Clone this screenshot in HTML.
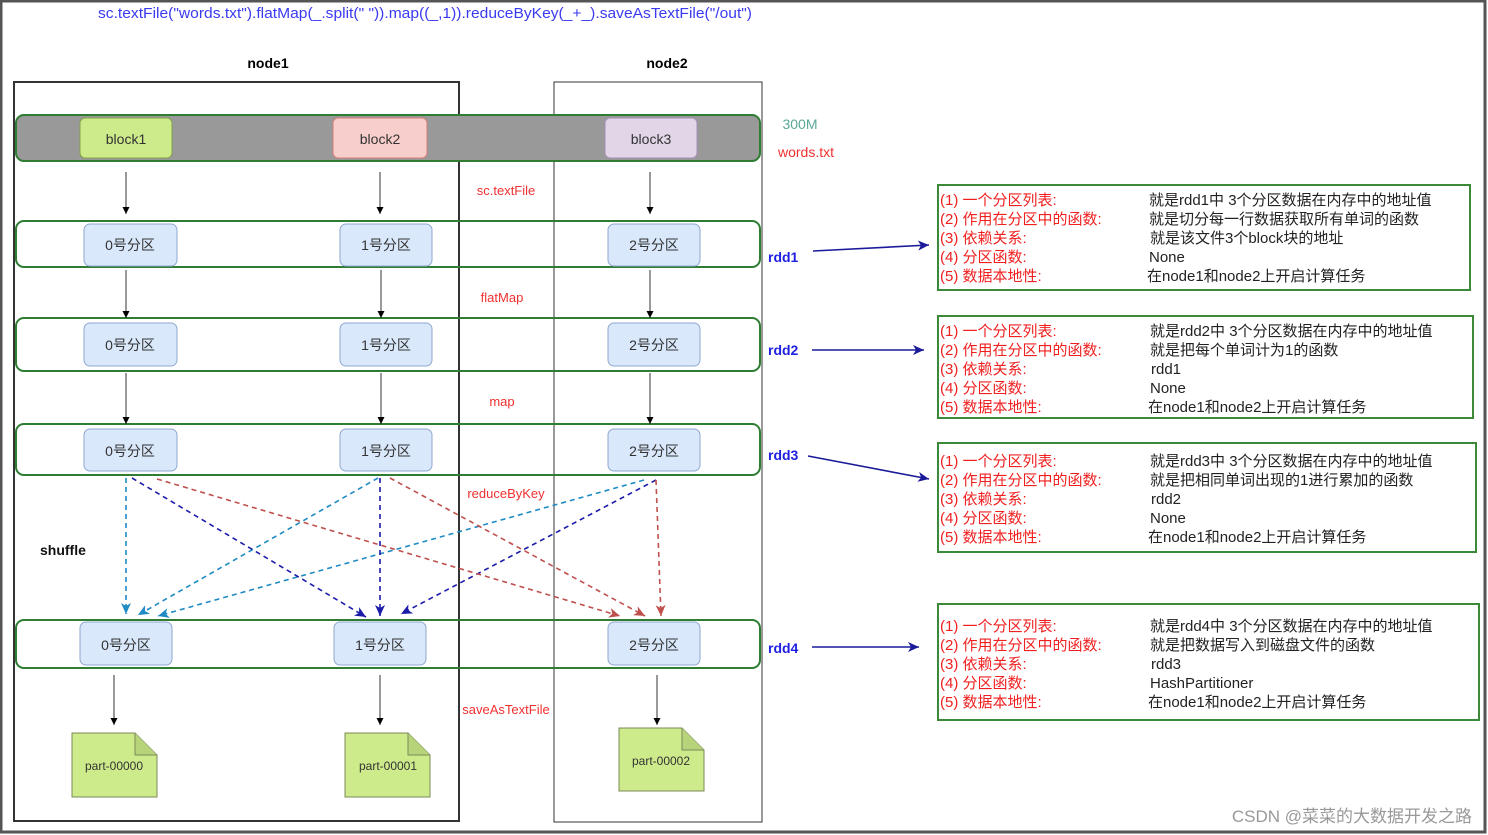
<!DOCTYPE html>
<html><head><meta charset="utf-8"><style>
html,body{margin:0;padding:0;background:#fff;}
svg{display:block;}
text{font-family:"Liberation Sans","Noto Sans CJK SC",sans-serif;}
</style></head><body>
<svg width="1488" height="835" viewBox="0 0 1488 835" xmlns="http://www.w3.org/2000/svg">
<defs>
<marker id="ak" markerWidth="8" markerHeight="8" refX="7" refY="4" orient="auto" markerUnits="userSpaceOnUse"><path d="M0,0.5 L7,4 L0,7.5 Z" fill="#000"/></marker>
<marker id="ab" markerWidth="12" markerHeight="10" refX="11" refY="5" orient="auto" markerUnits="userSpaceOnUse"><path d="M0,0 L11,5 L0,10 L3,5 Z" fill="#1a1a9a"/></marker>
<marker id="ac" markerWidth="12" markerHeight="10" refX="11" refY="5" orient="auto" markerUnits="userSpaceOnUse"><path d="M0,0 L11,5 L0,10 L3,5 Z" fill="#1f8ac4"/></marker>
<marker id="ad" markerWidth="12" markerHeight="10" refX="11" refY="5" orient="auto" markerUnits="userSpaceOnUse"><path d="M0,0 L11,5 L0,10 L3,5 Z" fill="#1c1caa"/></marker>
<marker id="ar" markerWidth="12" markerHeight="10" refX="11" refY="5" orient="auto" markerUnits="userSpaceOnUse"><path d="M0,0 L11,5 L0,10 L3,5 Z" fill="#c0504d"/></marker>
</defs>
<rect x="1" y="1" width="1484" height="831" fill="#fff" stroke="#555" stroke-width="3"/>
<text x="98" y="18" font-size="15" fill="#3a3af0" textLength="654" lengthAdjust="spacingAndGlyphs">sc.textFile("words.txt").flatMap(_.split(" ")).map((_,1)).reduceByKey(_+_).saveAsTextFile("/out")</text>
<text x="268" y="68" font-size="14" font-weight="bold" text-anchor="middle">node1</text>
<text x="667" y="68" font-size="14" font-weight="bold" text-anchor="middle">node2</text>
<rect x="14" y="82" width="445" height="739" fill="none" stroke="#333" stroke-width="2"/>
<rect x="554" y="82" width="208" height="740" fill="none" stroke="#333" stroke-width="1"/>
<rect x="16" y="115" width="744" height="46" rx="8" fill="#999" stroke="#2e7d32" stroke-width="2"/>
<rect x="80" y="118" width="92" height="40" rx="5" fill="#cdeb8b" stroke="#82a04a"/>
<rect x="333" y="118" width="94" height="40" rx="5" fill="#f8cecc" stroke="#d07d7a"/>
<rect x="605" y="118" width="92" height="40" rx="5" fill="#e1d5e7" stroke="#a58fb5"/>
<g font-size="14" fill="#333" text-anchor="middle">
<text x="126" y="144">block1</text><text x="380" y="144">block2</text><text x="651" y="144">block3</text>
</g>
<text x="800" y="129" font-size="14" fill="#5aa897" text-anchor="middle">300M</text>
<text x="806" y="157" font-size="14" fill="#f03030" text-anchor="middle">words.txt</text>
<g fill="none" stroke="#2e7d32" stroke-width="2">
<rect x="16" y="221" width="744" height="46" rx="8"/>
<rect x="16" y="318" width="744" height="53" rx="8"/>
<rect x="16" y="424" width="744" height="51" rx="8"/>
<rect x="16" y="620" width="744" height="48" rx="8"/>
</g>
<g fill="#dae8fc" stroke="#8fa8cf">
<rect x="84" y="224" width="93" height="42" rx="6"/><rect x="340" y="224" width="92" height="42" rx="6"/><rect x="608" y="224" width="92" height="42" rx="6"/>
<rect x="84" y="323" width="93" height="43" rx="6"/><rect x="340" y="323" width="92" height="43" rx="6"/><rect x="608" y="323" width="92" height="43" rx="6"/>
<rect x="84" y="429" width="93" height="42" rx="6"/><rect x="340" y="429" width="92" height="42" rx="6"/><rect x="608" y="429" width="92" height="42" rx="6"/>
<rect x="80" y="622" width="92" height="43" rx="6"/><rect x="334" y="622" width="92" height="43" rx="6"/><rect x="608" y="622" width="92" height="43" rx="6"/>
</g>
<g font-size="14" fill="#333" text-anchor="middle">
<text x="130" y="250">0号分区</text><text x="386" y="250">1号分区</text><text x="654" y="250">2号分区</text>
<text x="130" y="350">0号分区</text><text x="386" y="350">1号分区</text><text x="654" y="350">2号分区</text>
<text x="130" y="456">0号分区</text><text x="386" y="456">1号分区</text><text x="654" y="456">2号分区</text>
<text x="126" y="650">0号分区</text><text x="380" y="650">1号分区</text><text x="654" y="650">2号分区</text>
</g>
<g stroke="#333" stroke-width="1" marker-end="url(#ak)">
<line x1="126" y1="172" x2="126" y2="214"/><line x1="380" y1="172" x2="380" y2="214"/><line x1="650" y1="172" x2="650" y2="214"/>
<line x1="126" y1="270" x2="126" y2="318"/><line x1="381" y1="270" x2="381" y2="318"/><line x1="650" y1="270" x2="650" y2="318"/>
<line x1="126" y1="373" x2="126" y2="424"/><line x1="381" y1="373" x2="381" y2="424"/><line x1="650" y1="373" x2="650" y2="424"/>
<line x1="114" y1="675" x2="114" y2="725"/><line x1="380" y1="675" x2="380" y2="725"/><line x1="657" y1="675" x2="657" y2="725"/>
</g>
<g font-size="13" fill="#f03030" text-anchor="middle">
<text x="506" y="195">sc.textFile</text><text x="502" y="302">flatMap</text><text x="502" y="406">map</text>
<text x="506" y="498">reduceByKey</text><text x="506" y="714">saveAsTextFile</text>
</g>
<text x="40" y="555" font-size="14" font-weight="bold" fill="#111">shuffle</text>
<g fill="none" stroke-width="1.6" stroke-dasharray="5,4">
<line x1="126" y1="478" x2="126" y2="614" stroke="#1f8ac4" marker-end="url(#ac)"/>
<line x1="378" y1="478" x2="138" y2="615" stroke="#1f8ac4" marker-end="url(#ac)"/>
<line x1="644" y1="480" x2="158" y2="616" stroke="#1f8ac4" marker-end="url(#ac)"/>
<line x1="132" y1="478" x2="366" y2="617" stroke="#1c1caa" marker-end="url(#ad)"/>
<line x1="380" y1="478" x2="380" y2="616" stroke="#1c1caa" marker-end="url(#ad)"/>
<line x1="656" y1="480" x2="401" y2="614" stroke="#1c1caa" marker-end="url(#ad)"/>
<line x1="157" y1="479" x2="620" y2="616" stroke="#c0504d" marker-end="url(#ar)"/>
<line x1="390" y1="478" x2="645" y2="616" stroke="#c0504d" marker-end="url(#ar)"/>
<line x1="656" y1="480" x2="661" y2="616" stroke="#c0504d" marker-end="url(#ar)"/>
</g>
<g fill="#cdeb8b" stroke="#7a8a5a">
<path d="M72,733 H135 L157,755 V797 H72 Z"/><path d="M135,733 V755 H157" fill="#b8d47a"/>
<path d="M345,733 H408 L430,755 V797 H345 Z"/><path d="M408,733 V755 H430" fill="#b8d47a"/>
<path d="M619,728 H682 L704,750 V791 H619 Z"/><path d="M682,728 V750 H704" fill="#b8d47a"/>
</g>
<g font-size="12" fill="#333" text-anchor="middle">
<text x="114" y="770">part-00000</text><text x="388" y="770">part-00001</text><text x="661" y="765">part-00002</text>
</g>
<g font-size="14" font-weight="bold" fill="#2020e0">
<text x="768" y="262">rdd1</text><text x="768" y="355">rdd2</text><text x="768" y="460">rdd3</text><text x="768" y="653">rdd4</text>
</g>
<g stroke="#1a1a9a" stroke-width="1.6" marker-end="url(#ab)">
<line x1="813" y1="251" x2="929" y2="245"/>
<line x1="812" y1="350" x2="924" y2="350"/>
<line x1="808" y1="456" x2="929" y2="479"/>
<line x1="812" y1="647" x2="919" y2="647"/>
</g>
<g fill="none" stroke="#3a8a3a" stroke-width="2">
<rect x="938" y="185" width="532" height="105"/>
<rect x="938" y="316" width="535" height="102"/>
<rect x="938" y="443" width="538" height="109"/>
<rect x="938" y="604" width="541" height="116"/>
</g>
<g font-size="15">
<g fill="#f02020">
<text x="940" y="205">(1)  一个分区列表:</text><text x="940" y="224">(2) 作用在分区中的函数:</text><text x="940" y="243">(3) 依赖关系:</text><text x="940" y="262">(4) 分区函数:</text><text x="940" y="281">(5) 数据本地性:</text>
<text x="940" y="336">(1)  一个分区列表:</text><text x="940" y="355">(2) 作用在分区中的函数:</text><text x="940" y="374">(3) 依赖关系:</text><text x="940" y="393">(4) 分区函数:</text><text x="940" y="412">(5) 数据本地性:</text>
<text x="940" y="466">(1)  一个分区列表:</text><text x="940" y="485">(2) 作用在分区中的函数:</text><text x="940" y="504">(3) 依赖关系:</text><text x="940" y="523">(4) 分区函数:</text><text x="940" y="542">(5) 数据本地性:</text>
<text x="940" y="631">(1)  一个分区列表:</text><text x="940" y="650">(2) 作用在分区中的函数:</text><text x="940" y="669">(3) 依赖关系:</text><text x="940" y="688">(4) 分区函数:</text><text x="940" y="707">(5) 数据本地性:</text>
</g>
<g fill="#222">
<text x="1149" y="205">就是rdd1中 3个分区数据在内存中的地址值</text><text x="1149" y="224">就是切分每一行数据获取所有单词的函数</text><text x="1150" y="243">就是该文件3个block块的地址</text><text x="1149" y="262">None</text><text x="1147" y="281">在node1和node2上开启计算任务</text>
<text x="1150" y="336">就是rdd2中 3个分区数据在内存中的地址值</text><text x="1150" y="355">就是把每个单词计为1的函数</text><text x="1151" y="374">rdd1</text><text x="1150" y="393">None</text><text x="1148" y="412">在node1和node2上开启计算任务</text>
<text x="1150" y="466">就是rdd3中 3个分区数据在内存中的地址值</text><text x="1150" y="485">就是把相同单词出现的1进行累加的函数</text><text x="1151" y="504">rdd2</text><text x="1150" y="523">None</text><text x="1148" y="542">在node1和node2上开启计算任务</text>
<text x="1150" y="631">就是rdd4中 3个分区数据在内存中的地址值</text><text x="1150" y="650">就是把数据写入到磁盘文件的函数</text><text x="1151" y="669">rdd3</text><text x="1150" y="688">HashPartitioner</text><text x="1148" y="707">在node1和node2上开启计算任务</text>
</g>
</g>
<text x="1472" y="822" font-size="17" fill="#999" text-anchor="end">CSDN @菜菜的大数据开发之路</text>
</svg>
</body></html>
